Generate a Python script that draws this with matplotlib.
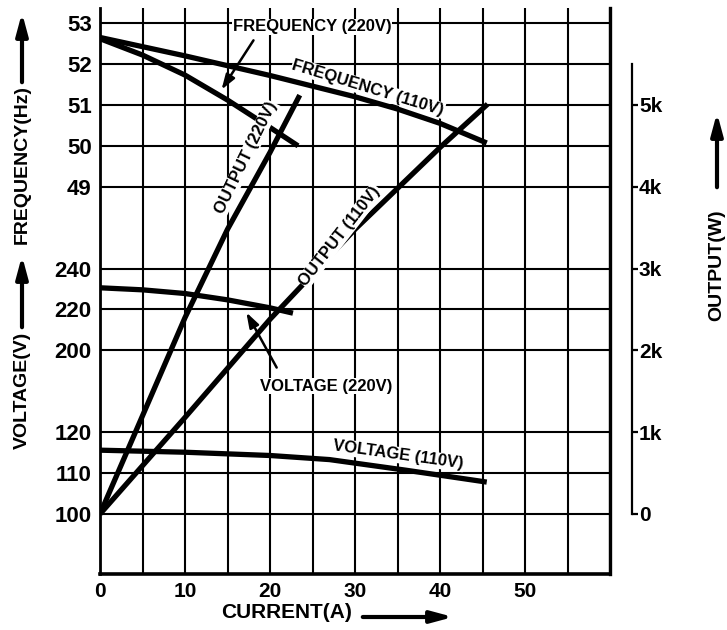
import matplotlib.pyplot as plt
import numpy as np

# ---- data ----
current_freq_110 = [0, 10, 20, 30, 35, 40, 45.5]
freq_110 = [52.65, 52.2, 51.72, 51.2, 50.9, 50.55, 50.07]

current_freq_220 = [0, 5, 10, 15, 20, 23.3]
freq_220 = [52.62, 52.22, 51.73, 51.12, 50.45, 50.0]

current_out_220 = [0, 5, 10, 15, 20, 23.5]
output_220 = [0, 1200, 2400, 3480, 4420, 5120]

current_out_110 = [0, 10, 20, 30, 40, 45.6]
output_110 = [0, 1180, 2380, 3480, 4480, 5010]

current_volt_220 = [0, 5, 10, 15, 20, 22.7]
volt_220 = [230.6, 229.6, 227.8, 224.7, 220.8, 218.2]

current_volt_110 = [0, 10, 20, 27, 36, 45.5]
volt_110 = [115.6, 115.1, 114.3, 113.3, 110.7, 107.8]

freq_ticks = [49, 50, 51, 52, 53]
volt_220_ticks = [200, 220, 240]
volt_110_ticks = [100, 110, 120]
output_ticks = [0, 1000, 2000, 3000, 4000, 5000]
output_labels = ["0", "1k", "2k", "3k", "4k", "5k"]
current_ticks = np.arange(0, 61, 5)

W, H = 727, 630
FONT = ["Liberation Sans", "DejaVu Sans"]

# all scales share one grid step; each scale = base + per_step * step
S_LO, S_HI = -1.467, 12.37


def lims(base, per_step):
    return base + per_step * S_LO, base + per_step * S_HI


def P(x, y):
    # pixel position -> figure fraction
    return x / W, 1 - y / H


fig = plt.figure(figsize=(W / 100, H / 100), dpi=100)
ax = fig.add_axes([100 / W, 56 / H, 510 / W, 566 / H])
ax_v2 = ax.twinx()
ax_v1 = ax.twinx()
ax_o = ax.twinx()

ax.set_xlim(0, 60)
ax.set_ylim(*lims(41, 1))
ax_v2.set_ylim(*lims(120, 20))
ax_v1.set_ylim(*lims(100, 10))
ax_o.set_ylim(*lims(0, 500))

grid_kw = dict(color="black", lw=1.5)
ax.set_xticks(current_ticks,
              [str(v) if v % 10 == 0 and v < 60 else "" for v in current_ticks])
ax.grid(axis="x", **grid_kw)
ax.tick_params(axis="x", length=0, pad=6)
for lab in ax.get_xticklabels():
    lab.set_fontfamily(FONT)
    lab.set_fontweight("bold")
    lab.set_fontsize(15)

for a, ticks in [(ax, freq_ticks), (ax_v2, volt_220_ticks), (ax_v1, volt_110_ticks)]:
    a.yaxis.set_ticks_position("left")
    a.set_yticks(ticks, [str(t) for t in ticks])
    a.grid(axis="y", **grid_kw)
    a.tick_params(axis="y", length=0, pad=6)
    for lab in a.get_yticklabels():
        lab.set_fontfamily(FONT)
        lab.set_fontweight("bold")
        lab.set_fontsize(16)
    a.set_axisbelow(True)

for a in (ax_v2, ax_v1, ax_o):
    for s in a.spines.values():
        s.set_visible(False)
    a.tick_params(axis="x", length=0)

ax.spines["top"].set_visible(False)
ax.spines["left"].set_linewidth(2.0)
ax.spines["bottom"].set_linewidth(2.6)
ax.spines["right"].set_linewidth(2.4)

# separate output scale on the right
ax_o.spines["right"].set_visible(True)
ax_o.spines["right"].set_position(("axes", (632 - 100) / 510))
ax_o.spines["right"].set_bounds(0, 5500)
ax_o.spines["right"].set_linewidth(1.6)
ax_o.set_yticks(output_ticks, output_labels)
ax_o.tick_params(axis="y", direction="out", length=4, width=1.6, pad=1)
for lab in ax_o.get_yticklabels():
    lab.set_fontfamily(FONT)
    lab.set_fontweight("bold")
    lab.set_fontsize(15)

line_kw = dict(color="black", lw=3.8, solid_capstyle="butt")
ax.plot(current_freq_110, freq_110, **line_kw)
ax.plot(current_freq_220, freq_220, **line_kw)
ax_v2.plot(current_volt_220, volt_220, **line_kw)
ax_v1.plot(current_volt_110, volt_110, **line_kw)
ax_o.plot(current_out_220, output_220, **line_kw)
ax_o.plot(current_out_110, output_110, **line_kw)

# curve labels
lbl = dict(family=FONT, weight="bold", fontsize=12, ha="center", va="center",
           bbox=dict(fc="white", ec="none", pad=0.5))
fig.text(*P(312, 27), "FREQUENCY (220V)", **lbl)
fig.text(*P(368, 88), "FREQUENCY (110V)", rotation=-17, **lbl)
fig.text(*P(246, 158), "OUTPUT (220V)", rotation=64, **lbl)
fig.text(*P(340, 236), "OUTPUT (110V)", rotation=52, **lbl)
fig.text(*P(326, 386), "VOLTAGE (220V)", **lbl)
fig.text(*P(398, 455), "VOLTAGE (110V)", rotation=-8, **lbl)

arr = dict(arrowstyle="-|>,head_length=0.9,head_width=0.3", color="black", lw=1.8)
ax.annotate("", xy=P(220, 92), xytext=P(255, 38), xycoords="figure fraction",
            textcoords="figure fraction", arrowprops=arr)
ax.annotate("", xy=P(245, 310), xytext=P(278, 370), xycoords="figure fraction",
            textcoords="figure fraction", arrowprops=arr)

# axis titles with arrows
big = dict(arrowstyle="-|>,head_length=1.3,head_width=0.35", color="black", lw=3)
ttl = dict(family=FONT, weight="bold", fontsize=14, ha="center", va="center")
fig.text(*P(22, 165), "FREQUENCY(Hz)", rotation=90, **ttl)
fig.text(*P(22, 390), "VOLTAGE(V)", rotation=90, **ttl)
fig.text(*P(717, 265), "OUTPUT(W)", rotation=90, **ttl)
fig.text(*P(287, 613), "CURRENT(A)", family=FONT, weight="bold", fontsize=15,
         ha="center", va="center")
for start, end in [((22, 85), (22, 10)), ((22, 330), (22, 253)),
                   ((717, 190), (717, 110)), ((360, 617), (456, 617))]:
    ax.annotate("", xy=P(*end), xytext=P(*start), xycoords="figure fraction",
                textcoords="figure fraction", arrowprops=big)

fig.savefig("out.png", dpi=100)
